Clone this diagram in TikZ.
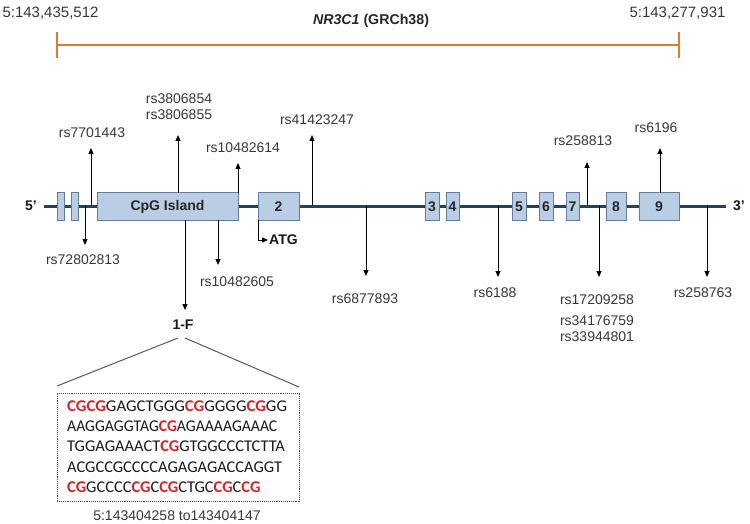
\documentclass[tikz,border=0pt]{standalone}
\usepackage{fontspec}
\usepackage{graphicx}
\setmainfont{Liberation Sans}
\newfontfamily\seqfont{Carlito}
\usetikzlibrary{arrows.meta}
\definecolor{exonfill}{RGB}{185,205,229}
\definecolor{exonline}{RGB}{96,124,160}
\definecolor{geneblue}{RGB}{38,64,98}
\definecolor{orangeline}{RGB}{224,122,46}
\definecolor{seqred}{RGB}{222,32,40}
\definecolor{labgray}{RGB}{55,55,55}
\newcommand\rcg[1]{\textcolor{seqred}{\bfseries #1}}
\tikzset{
  snp/.style={draw=black, line width=1pt, -{Triangle[length=6pt,width=5pt]}},
  lab/.style={font=\fontsize{14}{16}\selectfont, text=labgray, inner sep=0pt},
  toplab/.style={font=\fontsize{15}{17}\selectfont, text=labgray, inner sep=0pt},
  boldlab/.style={font=\bfseries\fontsize{14}{16}\selectfont, text=black!90, inner sep=0pt},
  exon/.style={draw=exonline, fill=exonfill, line width=1pt, minimum height=27pt, inner sep=0pt,
    font=\bfseries\fontsize{14}{16}\selectfont, text=black!85},
  gene/.style={draw=geneblue, line width=3pt},
  orng/.style={draw=orangeline, line width=2pt},
  seqrow/.style={font=\seqfont\fontsize{16.4}{20}\selectfont, text=black!90, inner sep=0pt, anchor=base west},
  zoomline/.style={draw=black!65, line width=1pt},
}
\begin{document}
\begin{tikzpicture}[x=1pt,y=-1pt]
\useasboundingbox (0,0) rectangle (750,524);
% ---- top coordinate bar
\coordinate (oL) at (57,45);
\coordinate (oR) at (679,45);
\coordinate (oLt) at (57,32); \coordinate (oLb) at (57,58);
\coordinate (oRt) at (679,32); \coordinate (oRb) at (679,58);
\draw[orng] (oL) -- (oR);
\draw[orng] (oLt) -- (oLb);
\draw[orng] (oRt) -- (oRb);
\node[toplab] (posL) at (50.5,13) {5:143,435,512};
\node[toplab] (posR) at (677.5,13) {5:143,277,931};
\node[font=\bfseries\fontsize{14.2}{16}\selectfont, text=black!85, inner sep=0pt] (title) at (371,21) {\textit{NR3C1} (GRCh38)};
% ---- gene line
\coordinate (g5) at (44,206);
\coordinate (g3) at (726,206);
\draw[gene] (g5) -- (g3);
\node[boldlab] (five) at (31,206) {5’};
\node[boldlab] (three) at (739,206) {3’};
% ---- exons
\node[exon, minimum width=7pt]   (e1a) at (60.5,206.5) {};
\node[exon, minimum width=7pt]   (e1b) at (74.5,206.5) {};
\node[exon, minimum width=141pt] (cpg) at (167.5,206.5) {CpG Island};
\node[exon, minimum width=41pt]  (e2)  at (278.5,206.5) {2};
\node[exon, minimum width=14pt]  (e3)  at (432,206.5) {3};
\node[exon, minimum width=13pt]  (e4)  at (452.5,206.5) {4};
\node[exon, minimum width=14pt]  (e5)  at (519,206.5) {5};
\node[exon, minimum width=14pt]  (e6)  at (546,206.5) {6};
\node[exon, minimum width=13pt]  (e7)  at (572.5,206.5) {7};
\node[exon, minimum width=20pt]  (e8)  at (616,206.5) {8};
\node[exon, minimum width=40pt]  (e9)  at (659,206.5) {9};
% ---- SNP arrows and labels
\coordinate (s1) at (91,206);  \coordinate (t1) at (91,148);
\draw[snp] (s1) -- (t1);
\node[lab] (l1) at (92,133) {rs7701443};

\coordinate (s2) at (85,206);  \coordinate (t2) at (85,245);
\draw[snp] (s2) -- (t2);
\node[lab] (l2) at (83,260) {rs72802813};

\coordinate (s3) at (178,193); \coordinate (t3) at (178,135);
\draw[snp] (s3) -- (t3);
\node[lab] (l3a) at (179,99) {rs3806854};
\node[lab] (l3b) at (179,115) {rs3806855};

\coordinate (s4) at (238,193); \coordinate (t4) at (238,163);
\draw[snp] (s4) -- (t4);
\node[lab] (l4) at (243,148) {rs10482614};

\coordinate (s5) at (312,206); \coordinate (t5) at (312,135);
\draw[snp] (s5) -- (t5);
\node[lab] (l5) at (317,120) {rs41423247};

\coordinate (s6) at (185,220); \coordinate (t6) at (185,310);
\draw[snp] (s6) -- (t6);
\node[boldlab] (onef) at (183,325) {1-F};

\coordinate (s7) at (218,220); \coordinate (t7) at (218,265);
\draw[snp] (s7) -- (t7);
\node[lab] (l7) at (237,282) {rs10482605};

\coordinate (sA) at (258,220); \coordinate (kA) at (258,240); \coordinate (tA) at (268,240);
\draw[snp] (sA) -- (kA) -- (tA);
\node[boldlab, anchor=west] (atg) at (269,240) {ATG};

\coordinate (s8) at (366,206); \coordinate (t8) at (366,276);
\draw[snp] (s8) -- (t8);
\node[lab] (l8) at (365,299) {rs6877893};

\coordinate (s9) at (498,206); \coordinate (t9) at (498,277);
\draw[snp] (s9) -- (t9);
\node[lab] (l9) at (495,293) {rs6188};

\coordinate (s10) at (587,206); \coordinate (t10) at (587,162);
\draw[snp] (s10) -- (t10);
\node[lab] (l10) at (583,141) {rs258813};

\coordinate (s11) at (599,206); \coordinate (t11) at (599,277);
\draw[snp] (s11) -- (t11);
\node[lab] (l11a) at (597,300) {rs17209258};
\node[lab] (l11b) at (597,321) {rs34176759};
\node[lab] (l11c) at (597,337) {rs33944801};

\coordinate (s12) at (660,193); \coordinate (t12) at (660,148);
\draw[snp] (s12) -- (t12);
\node[lab] (l12) at (656,128) {rs6196};

\coordinate (s13) at (707,206); \coordinate (t13) at (707,277);
\draw[snp] (s13) -- (t13);
\node[lab] (l13) at (703,293) {rs258763};
% ---- zoom of 1-F
\coordinate (z1) at (57,386);  \coordinate (z2) at (178,338);
\coordinate (z3) at (185,338); \coordinate (z4) at (299,387);
\draw[zoomline] (z1) -- (z2);
\draw[zoomline] (z3) -- (z4);
\node[draw=black!70, densely dotted, line width=0.9pt, minimum width=242pt, minimum height=108pt, inner sep=0pt] (seqbox) at (178,447) {};
\node[seqrow] (r1) at (67,411) {\scalebox{1.02}[1]{\rcg{CGCG}GAGCTGGG\rcg{CG}GGGG\rcg{CG}GG}};
\node[seqrow] (r2) at (67,431) {\scalebox{0.955}[1]{AAGGAGGTAG\rcg{CG}AGAAAAGAAAC}};
\node[seqrow] (r3) at (67,451.5) {TGGAGAAACT\rcg{CG}GTGGCCCTCTTA};
\node[seqrow] (r4) at (67,472) {ACGCCGCCCCAGAGAGACCAGGT};
\node[seqrow] (r5) at (67,492) {\rcg{CG}GCCCC\rcg{CG}C\rcg{CG}CTGC\rcg{CG}C\rcg{CG}};
\node[lab] (coord) at (177,516) {5:143404258 to143404147};
\end{tikzpicture}
\end{document}
